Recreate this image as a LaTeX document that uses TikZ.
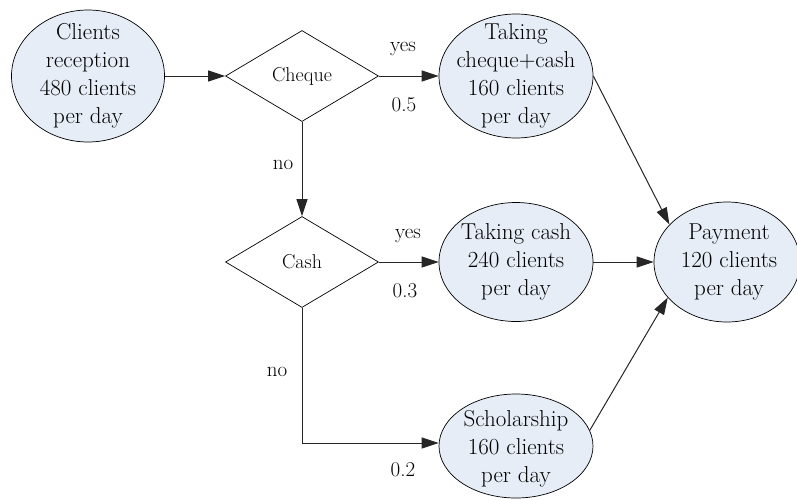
\documentclass[tikz,border=0pt]{standalone}
\usepackage{fontspec}
\usetikzlibrary{shapes.geometric,arrows.meta}
\definecolor{ellfill}{HTML}{E6EDF6}
\tikzset{
  ell/.style={ellipse,draw=black,line width=0.7pt,fill=ellfill,inner sep=0pt},
  ellt/.style={align=center,inner sep=0pt,font=\fontsize{23}{28}\selectfont},
  dia/.style={diamond,draw=black,line width=0.7pt,inner sep=0pt,minimum width=153pt,minimum height=91pt,
    font=\fontsize{20}{24}\selectfont},
  lbl/.style={font=\fontsize{21}{25}\selectfont,inner sep=0pt},
  conn/.style={draw=black!85,line width=1pt,-{Triangle[length=17pt,width=11pt]}}
}
\begin{document}
\begin{tikzpicture}[x=1pt,y=-1pt]
\useasboundingbox (0,0) rectangle (797,499);
\node[ell,minimum width=153pt,minimum height=132pt,
  label={[ellt]center:{Clients\\reception\\480 clients\\per day}}] (cr) at (88,76) {};
\node[dia] (chq) at (302,76) {Cheque};
\node[dia] (csh) at (302,262) {Cash};
\node[ell,minimum width=154pt,minimum height=124pt,
  label={[ellt]center:{Taking\\cheque+cash\\160 clients\\per day}}] (tcc) at (516,76) {};
\node[ell,minimum width=154pt,minimum height=119pt,
  label={[ellt]center:{Taking cash\\240 clients\\per day}}] (tc) at (516,262) {};
\node[ell,minimum width=154pt,minimum height=104pt,
  label={[ellt,yshift=-3pt]center:{Scholarship\\160 clients\\per day}}] (sch) at (516,446) {};
\node[ell,minimum width=146pt,minimum height=120pt,
  label={[ellt,xshift=2pt]center:{Payment\\120 clients\\per day}}] (pay) at (727,262) {};
\coordinate (bend) at (302,443);
\draw[conn] (cr.east) -- (chq.west);
\draw[conn] (chq.east) -- (tcc.west);
\draw[conn] (chq.south) -- (csh.north);
\draw[conn] (csh.east) -- (tc.west);
\draw[conn] (csh.south) -- (bend) -- (sch.west |- bend);
\draw[conn] (tcc.east) -- (pay.147);
\draw[conn] (tc.east) -- (pay.west);
\draw[conn] (sch.12) -- (pay.211);
\node[lbl] (y1) at (403,49) {yes};
\node[lbl] (p1) at (404,105) {0.5};
\node[lbl] (n1) at (283,165) {no};
\node[lbl] (y2) at (408,236) {yes};
\node[lbl] (p2) at (405,291) {0.3};
\node[lbl] (n2) at (277,372) {no};
\node[lbl] (p3) at (403,470) {0.2};
\end{tikzpicture}
\end{document}
